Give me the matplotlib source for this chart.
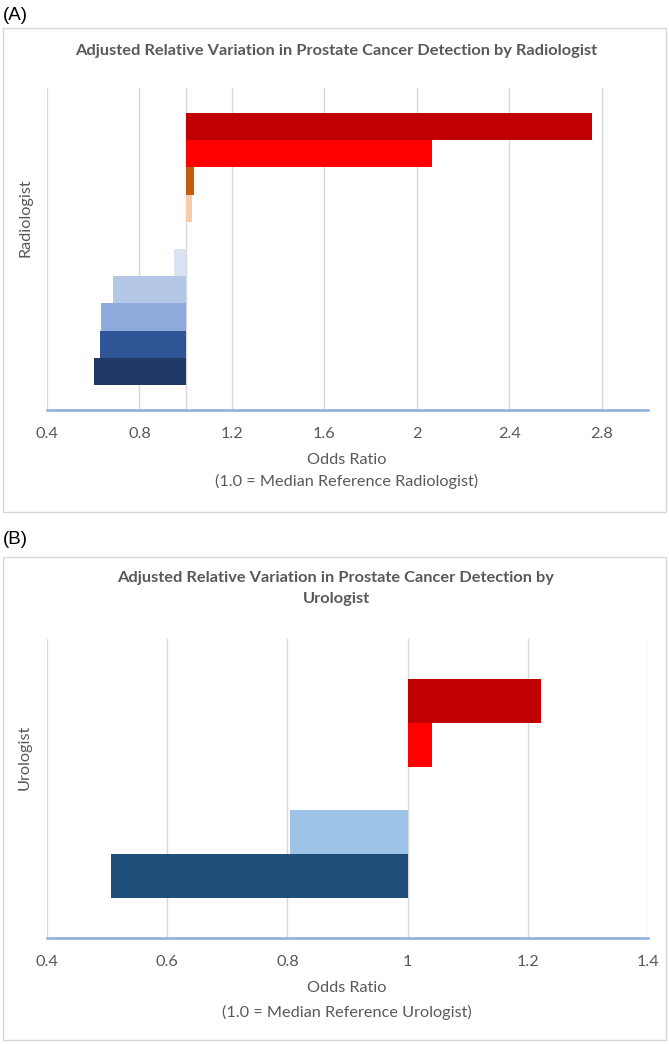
import matplotlib
matplotlib.use("Agg")
import matplotlib.pyplot as plt
from matplotlib.patches import Rectangle

plt.rcParams["font.family"] = ["Lato", "DejaVu Sans"]

W, H = 669, 1044
GREY_TEXT = "#595959"
GRID = "#D9D9D9"
AXIS_BLUE = "#8FAADC"
FS = 11.7

# Panel A: radiologists, bottom to top (1.0 = median reference)
rad_odds = [0.602, 0.630, 0.632, 0.685, 0.948, 1.0, 1.028, 1.035, 2.067, 2.758]
rad_colors = ["#1F3864", "#2F5597", "#8FAADC", "#B4C7E7", "#DAE3F3",
              "#FFFFFF", "#F8CBAD", "#C55A11", "#FF0000", "#C00000"]
rad_ticks = [0.4, 0.8, 1.2, 1.6, 2.0, 2.4, 2.8]
rad_ticklabels = ["0.4", "0.8", "1.2", "1.6", "2", "2.4", "2.8"]

# Panel B: urologists, bottom to top
uro_odds = [0.506, 0.804, 1.0, 1.040, 1.222]
uro_colors = ["#1F4E79", "#9DC3E6", "#FFFFFF", "#FF0000", "#C00000"]
uro_ticks = [0.4, 0.6, 0.8, 1.0, 1.2, 1.4]
uro_ticklabels = ["0.4", "0.6", "0.8", "1", "1.2", "1.4"]


def fx(px):
    return px / W


def fy(py):
    return 1 - py / H


fig = plt.figure(figsize=(W / 100, H / 100), dpi=100)


def panel(top, bottom, odds, colors, ticks, ticklabels, xmax, ref_grid):
    ax = fig.add_axes([fx(47), fy(bottom), fx(648) - fx(47), fy(top) - fy(bottom)])
    n = len(odds)
    pos = list(range(n))
    widths = [v - 1.0 for v in odds]
    ax.barh(pos, widths, left=1.0, height=1.0, color=colors, zorder=3)
    ax.set_xlim(0.4, xmax)
    pad = 0.91
    ax.set_ylim(-0.5 - pad, n - 0.5 + pad)
    for t in ticks:
        ax.axvline(t, color=GRID, lw=1.0, zorder=1)
    if ref_grid:
        ax.axvline(1.0, color=GRID, lw=1.0, zorder=1)
    ax.axhline(ax.get_ylim()[0], color=AXIS_BLUE, lw=1.8, zorder=4, clip_on=False)
    ax.set_xticks(ticks)
    ax.set_xticklabels(ticklabels)
    ax.tick_params(axis="x", length=0, pad=12, labelsize=FS, labelcolor=GREY_TEXT)
    ax.set_yticks([])
    for s in ax.spines.values():
        s.set_visible(False)
    return ax


# Panel A
fig.text(fx(3), fy(15), "(A)", fontsize=13.5, family=["Liberation Sans"], va="center", ha="left")
fig.patches.append(Rectangle((fx(3), fy(512)), fx(666) - fx(3), fy(28) - fy(512),
                             transform=fig.transFigure, fill=False, edgecolor=GRID, lw=1.0))
fig.text(fx(336), fy(51), "Adjusted Relative Variation in Prostate Cancer Detection by Radiologist",
         fontsize=11.8, fontweight="bold", color=GREY_TEXT, ha="center", va="center")
panel(88, 410, rad_odds, rad_colors, rad_ticks, rad_ticklabels, 3.0, True)
fig.text(fx(25), fy(218), "Radiologist", rotation=90, fontsize=FS, color=GREY_TEXT,
         ha="center", va="center")
fig.text(fx(347), fy(460), "Odds Ratio", fontsize=FS, color=GREY_TEXT, ha="center", va="center")
fig.text(fx(347), fy(481), "(1.0 = Median Reference Radiologist)", fontsize=FS,
         color=GREY_TEXT, ha="center", va="center")

# Panel B
fig.text(fx(3), fy(540), "(B)", fontsize=13.5, family=["Liberation Sans"], va="center", ha="left")
fig.patches.append(Rectangle((fx(3), fy(1040)), fx(666) - fx(3), fy(557) - fy(1040),
                             transform=fig.transFigure, fill=False, edgecolor=GRID, lw=1.0))
fig.text(fx(336), fy(578), "Adjusted Relative Variation in Prostate Cancer Detection by",
         fontsize=11.8, fontweight="bold", color=GREY_TEXT, ha="center", va="center")
fig.text(fx(336), fy(599), "Urologist",
         fontsize=11.8, fontweight="bold", color=GREY_TEXT, ha="center", va="center")
panel(639, 938, uro_odds, uro_colors, uro_ticks, uro_ticklabels, 1.4, False)
fig.text(fx(25), fy(757), "Urologist", rotation=90, fontsize=FS, color=GREY_TEXT,
         ha="center", va="center")
fig.text(fx(347), fy(988), "Odds Ratio", fontsize=FS, color=GREY_TEXT, ha="center", va="center")
fig.text(fx(347), fy(1012), "(1.0 = Median Reference Urologist)", fontsize=FS,
         color=GREY_TEXT, ha="center", va="center")

fig.savefig("out.png", dpi=100)
